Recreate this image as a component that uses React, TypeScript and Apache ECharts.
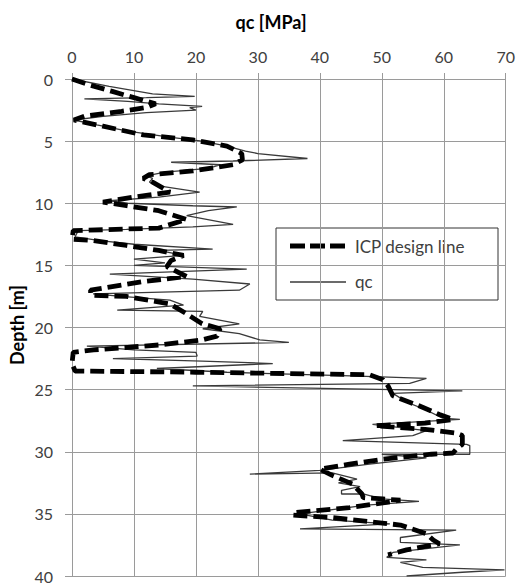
import React, { useEffect, useRef } from "react";
import * as echarts from "echarts";

const xTicks = [0, 10, 20, 30, 40, 50, 60, 70];
const yTicks = [0, 5, 10, 15, 20, 25, 30, 35, 40];
const legendNames = ["ICP design line", "qc"];

const icpDepth = [
  0, 0.5, 1.0, 1.5, 2.0, 2.3, 2.6, 3.0, 3.3, 3.8, 4.5, 4.9, 5.4, 6.0, 6.5, 6.9, 7.4, 7.7, 8.0, 8.3,
  9.1, 9.5, 9.9, 10.2, 10.6, 11.3, 12.0, 12.2, 12.9, 13.0, 13.4, 13.8, 14.2, 14.6, 15.1, 15.9, 16.3,
  17.0, 17.4, 17.5, 18.1, 18.9, 19.7, 20.1, 20.7, 21.0, 21.4, 21.8, 22.0, 22.9, 23.5, 23.6, 23.8,
  24.2, 24.7, 25.5, 26.3, 27.0, 27.4, 27.7, 27.9, 28.2, 28.5, 28.7, 29.4, 29.8, 30.1, 30.2, 30.6,
  31.0, 31.4, 31.9, 32.6, 33.4, 33.7, 33.8, 33.9, 34.5, 34.9, 35.1, 35.3, 35.9, 36.6, 37.1, 37.4,
  37.9, 38.3,
];
const icpQc = [
  0, 3, 6.5, 10, 13.5, 12, 8, 2, 0.3, 5, 11.5, 19.5, 25, 27.4, 27.5, 26, 19.5, 12.5, 11.5, 13,
  15.8, 10, 5, 8.8, 14, 18.5, 14, 0.2, 0, 3.5, 8.8, 14, 18, 16, 15.3, 18.5, 11.5,
  3, 3, 8.8, 15.8, 18.5, 21, 23.9, 23.4, 21, 14.2, 3.5, 0.2, 0, 0.5, 20, 48,
  50.2, 51, 51.8, 56, 59.3, 61.5, 57, 49, 57, 62, 63, 63, 62, 61.5, 58, 50.2,
  44.8, 40, 42, 45.3, 46.8, 47, 50.2, 53, 44.8, 35.7, 35.7, 42, 53, 57.2, 58.3, 59.3,
  54, 51,
];

const qcDepth = [
  0, 0.6, 1.2, 1.4, 1.5, 1.6, 1.8, 2.0, 2.2, 2.3, 2.5, 2.7, 3.0, 3.3, 3.7, 4.2, 4.7, 5.0, 5.4, 5.8,
  6.0, 6.4, 6.6, 6.7, 6.9, 7.2, 7.5, 7.8, 8.0, 8.3, 8.6, 9.1, 9.5, 9.8, 10.0, 10.2, 10.3, 10.6, 11.0,
  11.7, 11.9, 12.1, 12.2, 12.7, 13.0, 13.3, 13.7, 13.8, 14.2, 14.5, 14.8, 15.0, 15.3, 15.7, 16.1,
  16.5, 17.0, 17.3, 17.5, 17.8, 18.2, 18.6, 18.7, 19.1, 19.7, 20.1, 20.5, 21.0, 21.2, 21.5, 21.8,
  22.0, 22.3, 22.5, 22.7, 22.9, 23.3, 23.6, 23.9, 24.1, 24.5, 24.7, 25.1, 25.3, 26.0, 26.6, 27.3,
  27.4, 27.8, 28.3, 28.7, 29.1, 29.4, 29.5, 30.2, 30.2, 30.5, 31.0, 31.5, 31.8, 31.7, 32.2, 32.5,
  32.8, 33.1, 33.4, 33.4, 33.8, 34.0, 34.3, 35.0, 35.5, 35.8, 36.2, 36.3, 36.9, 37.3, 37.5, 38.1,
  38.5, 38.7, 38.9, 39.3, 39.5, 39.7, 40.0,
];
const qcValues = [
  0, 6, 13, 19.8, 12, 2, 9, 14, 21, 19, 20, 12, 5, 0.3, 4, 9, 16, 21, 25, 28,
  30, 38, 26, 16, 24, 22, 15, 12, 13, 12.5, 14, 20.6, 14, 6, 9, 19.5, 26.6, 22, 18.5,
  26, 19.5, 8.8, 1, 0.5, 4.5, 10, 22.7, 14, 18, 10, 15, 10, 28.2, 6.1, 19.5,
  28.7, 27, 3.4, 8, 15.8, 18, 7.3, 21.1, 20.6, 27, 21.1, 27, 30.3, 35, 2.4, 10,
  20, 20.2, 6.6, 21, 32.4, 13.7, 25, 45, 57.2, 54.5, 19.5, 63, 51.8, 54, 57, 59.8,
  62.6, 48.5, 57.2, 55, 43.7, 63.7, 64.2, 64.2, 50, 57.2, 48, 40, 28.7, 42, 46, 43,
  46.5, 43.5, 43.5, 47, 50, 56, 47.5, 36.8, 42, 51.3, 36.8, 62, 53, 53, 62.6, 51.8,
  50.8, 57.2, 53, 56.6, 69.8, 63, 54,
];

const FONT = "Lato, 'Open Sans', sans-serif";
const DASH = [14, 6];

export default function App() {
  const ref = useRef<HTMLDivElement>(null);
  useEffect(() => {
    if (!ref.current) return;
    const chart = echarts.init(ref.current, undefined, { renderer: "svg" });
    const icpData = icpDepth.map((d, i) => [icpQc[i], d]);
    const qcData = qcDepth.map((d, i) => [qcValues[i], d]);
    chart.setOption({
      animation: false,
      backgroundColor: "#ffffff",
      grid: { left: 72, right: 12, top: 79, bottom: 5, containLabel: false },
      xAxis: {
        type: "value",
        position: "top",
        min: xTicks[0],
        max: xTicks[xTicks.length - 1],
        interval: 10,
        axisLine: { show: false },
        axisTick: { show: true, length: 6, lineStyle: { color: "#9a9a9a" } },
        axisLabel: {
          margin: 15,
          fontSize: 16,
          color: "#404040",
          fontFamily: FONT,
        },
        splitLine: { show: true, lineStyle: { color: "#9a9a9a", width: 1 } },
      },
      yAxis: {
        type: "value",
        inverse: true,
        min: yTicks[0],
        max: yTicks[yTicks.length - 1],
        interval: 5,
        axisLine: { show: true, lineStyle: { color: "#9a9a9a" } },
        axisTick: { show: true, length: 7, lineStyle: { color: "#9a9a9a" } },
        axisLabel: {
          margin: 19,
          fontSize: 16,
          color: "#404040",
          fontFamily: FONT,
        },
        splitLine: { show: true, lineStyle: { color: "#9a9a9a", width: 1 } },
      },
      graphic: [
        {
          type: "text",
          x: 271,
          y: 22,
          style: {
            text: "qc [MPa]",
            fontSize: 18,
            fontWeight: "bold",
            fontFamily: FONT,
            fill: "#000",
            textAlign: "center",
            textVerticalAlign: "middle",
          },
        },
        {
          type: "text",
          x: 17,
          y: 325,
          rotation: Math.PI / 2,
          style: {
            text: "Depth [m]",
            fontSize: 18,
            fontWeight: "bold",
            fontFamily: FONT,
            fill: "#000",
            textAlign: "center",
            textVerticalAlign: "middle",
          },
        },
        {
          type: "group",
          x: 276,
          y: 228,
          z: 100,
          children: [
            {
              type: "rect",
              shape: { x: 0, y: 0, width: 222, height: 72 },
              style: { fill: "#ffffff", stroke: "#333333", lineWidth: 1 },
            },
            {
              type: "line",
              shape: { x1: 14, y1: 18, x2: 70, y2: 18 },
              style: { stroke: "#000000", lineWidth: 5, lineDash: [15, 5] },
            },
            {
              type: "text",
              x: 79,
              y: 18,
              style: {
                text: legendNames[0],
                fontSize: 17,
                fontFamily: FONT,
                fill: "#404040",
                textVerticalAlign: "middle",
              },
            },
            {
              type: "line",
              shape: { x1: 14, y1: 54, x2: 70, y2: 54 },
              style: { stroke: "#3a3a3a", lineWidth: 1.3 },
            },
            {
              type: "text",
              x: 79,
              y: 53,
              style: {
                text: legendNames[1],
                fontSize: 17,
                fontFamily: FONT,
                fill: "#404040",
                textVerticalAlign: "middle",
              },
            },
          ],
        },
      ],
      series: [
        {
          name: legendNames[1],
          type: "line",
          data: qcData,
          symbol: "none",
          showSymbol: false,
          z: 2,
          lineStyle: { color: "#3a3a3a", width: 1.3 },
          itemStyle: { color: "#3a3a3a" },
        },
        {
          name: legendNames[0],
          type: "line",
          data: icpData,
          symbol: "none",
          showSymbol: false,
          z: 3,
          lineStyle: { color: "#000000", width: 4.8, type: DASH },
          itemStyle: { color: "#000000" },
        },
      ],
    });
    return () => chart.dispose();
  }, []);
  return (
    <div
      ref={ref}
      style={{ position: "absolute", left: 0, top: 0, width: 518, height: 584 }}
    />
  );
}
